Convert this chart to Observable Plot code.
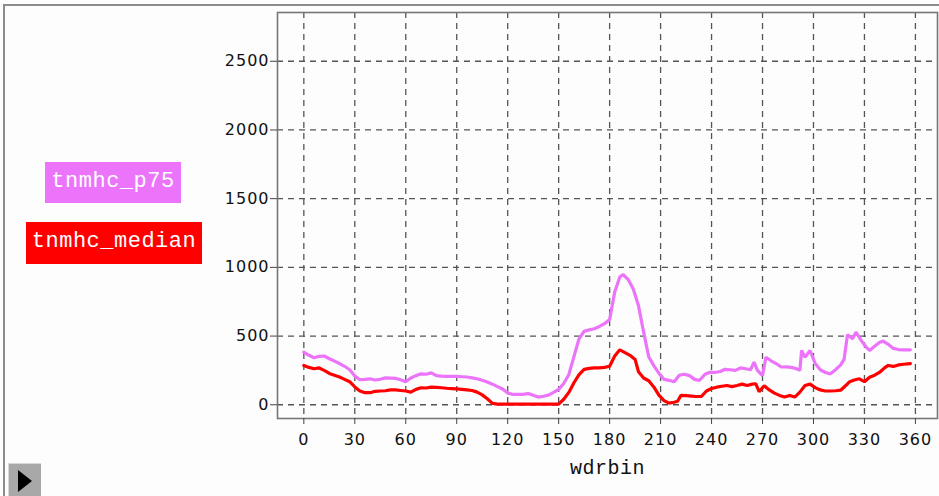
<!DOCTYPE html>
<html><head><meta charset="utf-8">
<script src="https://cdn.jsdelivr.net/npm/d3@7"></script>
<script src="https://cdn.jsdelivr.net/npm/@observablehq/plot@0.6"></script>
<style>
body{margin:0;background:#fdfdfd;}
#wrap{position:relative;width:939px;height:496px;overflow:hidden;background:#fdfdfd;}
#chart{position:absolute;left:0;top:0;}
#chart svg text{letter-spacing:1px;}
#chart svg g[aria-label="x-axis label"] text{font-family:"Liberation Mono",monospace;font-size:20px;letter-spacing:0.5px;}
.bt{position:absolute;left:3px;top:4px;width:936px;height:2px;background:#8c8c8c;}
.bl{position:absolute;left:3px;top:4px;width:2px;height:492px;background:#8c8c8c;}
.leg{position:absolute;color:#fff;font-family:"Liberation Mono",monospace;font-size:22px;line-height:40px;text-align:center;letter-spacing:0.5px;}
.btn{position:absolute;left:8px;top:463px;width:33px;height:33px;background:#a8a8a8;border-top:1px solid #d8d8d8;border-left:1px solid #d8d8d8;box-sizing:border-box;}
.tri{position:absolute;left:9px;top:6px;width:0;height:0;border-top:11px solid transparent;border-bottom:11px solid transparent;border-left:14px solid #000;}
</style></head>
<body><div id="wrap">
<div class="bt"></div><div class="bl"></div>
<div id="chart"></div>
<div class="leg" style="left:45px;top:162px;width:136px;height:41px;background:#ec74fa;">tnmhc_p75</div>
<div class="leg" style="left:26px;top:222px;width:176px;height:42px;background:#ff0000;">tnmhc_median</div>
<div class="btn"><div class="tri"></div></div>
</div>
<script>
const seriesNames = ["tnmhc_p75", "tnmhc_median"];
const xTicks = [0,30,60,90,120,150,180,210,240,270,300,330,360];
const yTicks = [0,500,1000,1500,2000,2500];

const p75Bins = [0,3,6,9,12,15,18,21,24,27,30,33,36,39,42,45,48,51,54,57,60,63,66,69,72,75,78,81,84,87,90,93,96,99,102,105,108,111,114,117,120,123,126,129,132,135,138,141,144,147,150,153,156,159,162,165,168,171,174,177,180,183,186,188,191,194,197,200,203,206,209,212,215,218,221,224,227,230,233,236,239,242,245,248,251,254,257,260,263,265,267,270,272,275,278,281,284,287,290,292,293,295,298,301,304,307,310,313,316,318,320,323,325,328,331,333,336,339,341,344,347,350,353,357];
const tnmhc_p75 = [383,360,342,352,355,335,318,300,280,255,210,182,185,189,180,186,196,194,192,182,168,195,212,225,222,232,212,208,206,206,206,204,202,196,189,178,165,150,132,115,85,75,75,76,82,70,56,62,70,90,112,155,220,350,480,535,545,553,570,590,620,820,930,948,910,840,720,530,350,285,230,185,178,168,215,222,212,185,178,220,237,235,242,258,255,250,268,262,255,310,250,213,346,320,300,275,276,272,262,250,395,346,395,300,255,235,225,255,290,330,510,480,528,470,420,395,425,455,463,440,410,402,400,400];

const medianBins = [0,3,6,9,12,15,18,21,24,27,30,33,36,39,42,45,48,51,54,57,60,63,66,69,72,75,78,81,84,87,90,93,96,99,102,105,108,111,114,120,126,132,138,144,150,153,156,159,162,165,168,171,174,177,180,183,186,189,192,195,197,200,203,206,209,212,215,218,220,222,225,228,231,234,237,240,243,246,249,252,255,258,261,264,266,268,271,274,277,280,283,286,289,292,295,298,301,304,307,310,313,316,319,321,324,327,330,333,336,339,342,344,347,350,353,357];
const tnmhc_median = [286,272,262,268,250,228,215,202,185,168,130,100,88,88,98,100,102,108,108,104,100,92,112,124,122,128,126,124,120,118,116,112,108,104,92,72,44,10,5,5,5,5,5,5,5,40,90,160,220,258,265,268,269,272,280,355,400,380,360,330,240,195,175,130,70,30,12,18,25,68,66,63,60,60,100,118,128,135,140,132,140,150,140,150,153,95,138,108,85,68,56,68,56,92,140,150,125,108,100,100,102,106,140,165,180,189,168,200,215,237,270,286,279,290,295,300];

const colors = {"tnmhc_p75": "#ec74fa", "tnmhc_median": "#ff0000"};
const rows = [
  ...p75Bins.map((b, i) => ({wdrbin: b, value: tnmhc_p75[i], series: seriesNames[0]})),
  ...medianBins.map((b, i) => ({wdrbin: b, value: tnmhc_median[i], series: seriesNames[1]}))
];

const chart = Plot.plot({
  width: 939, height: 496,
  marginLeft: 277, marginRight: 2, marginTop: 12, marginBottom: 78,
  style: {background: "transparent", fontFamily: "DejaVu Sans", fontSize: "16px", color: "#111"},
  x: {domain: [-15.5, 373]},
  y: {domain: [-100, 2855]},
  color: {domain: seriesNames, range: seriesNames.map(s => colors[s])},
  marks: [
    Plot.gridX(xTicks, {stroke: "#555", strokeOpacity: 1, strokeWidth: 1.3, strokeDasharray: "6,5"}),
    Plot.gridY(yTicks, {stroke: "#555", strokeOpacity: 1, strokeWidth: 1.3, strokeDasharray: "6,5"}),
    Plot.line(rows, {x: "wdrbin", y: "value", z: "series", stroke: "series", strokeWidth: 3.2, strokeLinejoin: "miter"}),
    Plot.frame({stroke: "#777", strokeWidth: 1.6}),
    Plot.axisX(xTicks, {tickSize: 6, tickPadding: 9, stroke: "#444", tickFormat: d => String(d), label: "wdrbin", labelArrow: "none", labelAnchor: "center", labelOffset: 55}),
    Plot.axisY(yTicks, {tickSize: 7, tickPadding: 1, stroke: "#444", tickFormat: d => String(d), label: null})
  ]
});
document.getElementById("chart").appendChild(chart);
</script>
</body></html>
